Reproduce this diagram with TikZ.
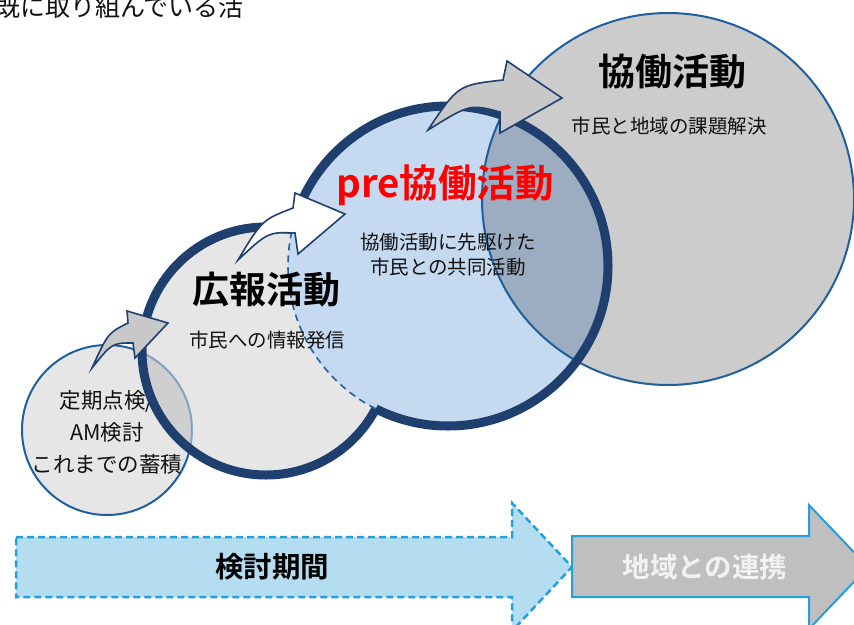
\documentclass[tikz,border=0pt]{standalone}
\usepackage{fontspec}
\setmainfont{Noto Sans CJK JP}[BoldFont={Noto Sans CJK JP Bold}]
\definecolor{navy}{HTML}{1F3F6E}
\definecolor{thinblue}{HTML}{1F5F9E}
\definecolor{lgray}{HTML}{E6E6E6}
\definecolor{ovgray}{HTML}{CFCFCF}
\definecolor{bgray}{HTML}{CCCCCC}
\definecolor{preblue}{HTML}{C5D9F1}
\definecolor{ovblue}{HTML}{9DADC1}
\definecolor{arrgray}{HTML}{C8C8C8}
\definecolor{skyfill}{HTML}{B4DDF2}
\definecolor{skyline}{HTML}{23A0DC}
\definecolor{barrgray}{HTML}{BFBFBF}
\definecolor{txt}{HTML}{111111}
\begin{document}
\begin{tikzpicture}[x=1pt,y=-1pt,
  thickring/.style={draw=navy,line width=9pt},
  thinring/.style={draw=thinblue,line width=2pt},
  curvearrow/.style={draw=navy,line width=1.6pt,line join=miter},
  bigtitle/.style={font=\fontsize{37}{42}\selectfont\bfseries,text=black,inner sep=0pt},
  subtitle/.style={font=\fontsize{19.5}{25}\selectfont,text=txt,inner sep=0pt,align=center},
  bandtext/.style={font=\fontsize{28.5}{30}\selectfont\bfseries,inner sep=0pt}]
\useasboundingbox (0,0) rectangle (854,624);
\clip (0,0) rectangle (854,624);

\coordinate (cS) at (107,430);
\coordinate (cK) at (266,351);
\coordinate (cP) at (448,266);
\coordinate (cB) at (668,199);

% top cut-off text
\node[anchor=base east,inner sep=0pt,font=\fontsize{25}{28}\selectfont,text=txt] (toptext) at (244,16) {既に取り組んでいる活};

% 広報 circle fill
\fill[lgray] (cK) circle (124pt);
% small circle
\fill[lgray] (cS) circle (85pt);
\begin{scope}
  \clip (cK) circle (124pt);
  \fill[ovgray] (cS) circle (85pt);
  \draw[thinring,draw opacity=0.45] (cS) circle (85pt);
\end{scope}
\begin{scope}[even odd rule]
  \clip (-10,-10) rectangle (900,700) (cK) circle (124pt);
  \draw[thinring] (cS) circle (85pt);
\end{scope}
\node[inner sep=0pt,align=center,font=\fontsize{21.5}{32}\selectfont,text=txt] (stext) at (107,432) {定期点検/\\AM検討\\これまでの蓄積};
% 広報 ring
\draw[thickring] (cK) circle (124pt);

% big circle
\fill[bgray] (cB) circle (186pt);
% pre circle
\fill[preblue] (cP) circle (160pt);
\begin{scope}
  \clip (cP) circle (160pt);
  \fill[ovblue] (cB) circle (186pt);
\end{scope}
\draw[thinring] (cB) circle (186pt);
\begin{scope}[even odd rule]
  \clip (-10,-10) rectangle (900,700) (cK) circle (124pt);
  \draw[thickring] (cP) circle (160pt);
\end{scope}
\begin{scope}
  \clip (cK) circle (124pt);
  \draw[draw=thinblue,line width=1.6pt,dash pattern=on 7pt off 5pt] (cP) circle (160pt);
\end{scope}

% curved arrows
\draw[curvearrow,fill=arrgray] (92,368) .. controls (108,333) .. (128,323) -- (127,311) -- (168,323) -- (135,358) -- (133,343) .. controls (112,343) .. (92,368) -- cycle;
\draw[curvearrow,fill=white] (238,260) .. controls (262,220) .. (293,208) -- (295,193) -- (345,214) -- (298,254) -- (295,233) .. controls (268,232) .. (238,260) -- cycle;
\draw[curvearrow,fill=arrgray] (428,130) .. controls (458,85) .. (503,80) -- (507,61) -- (562,98) -- (500,133) -- (500,112) .. controls (470,104) .. (428,130) -- cycle;

% texts in circles
\node[bigtitle] (t1) at (672,72) {協働活動};
\node[subtitle] (s1) at (669,126) {市民と地域の課題解決};
\node[bigtitle,text=red,font=\fontsize{38.5}{42}\selectfont\bfseries] (t2) at (445,185) {pre協働活動};
\node[subtitle] (s2) at (448,255) {協働活動に先駆けた\\市民との共同活動};
\node[bigtitle] (t3) at (266,290) {広報活動};
\node[subtitle] (s3) at (267,340) {市民への情報発信};

% bottom band arrows
\draw[fill=skyfill,draw=skyline,line width=2.5pt,dash pattern=on 7pt off 4pt]
  (16,537) -- (512,537) -- (512,503) -- (572,567) -- (512,631) -- (512,597) -- (16,597) -- cycle;
\node[bandtext,text=black] (b1) at (272,567) {検討期間};
\draw[fill=barrgray,draw=skyline,line width=2pt]
  (572,536) -- (809,536) -- (809,505) -- (868,567) -- (809,629) -- (809,597) -- (572,597) -- cycle;
\node[bandtext,text=white!95!black,font=\fontsize{27.5}{30}\selectfont\bfseries] (b2) at (705,567) {地域との連携};
\end{tikzpicture}
\end{document}
